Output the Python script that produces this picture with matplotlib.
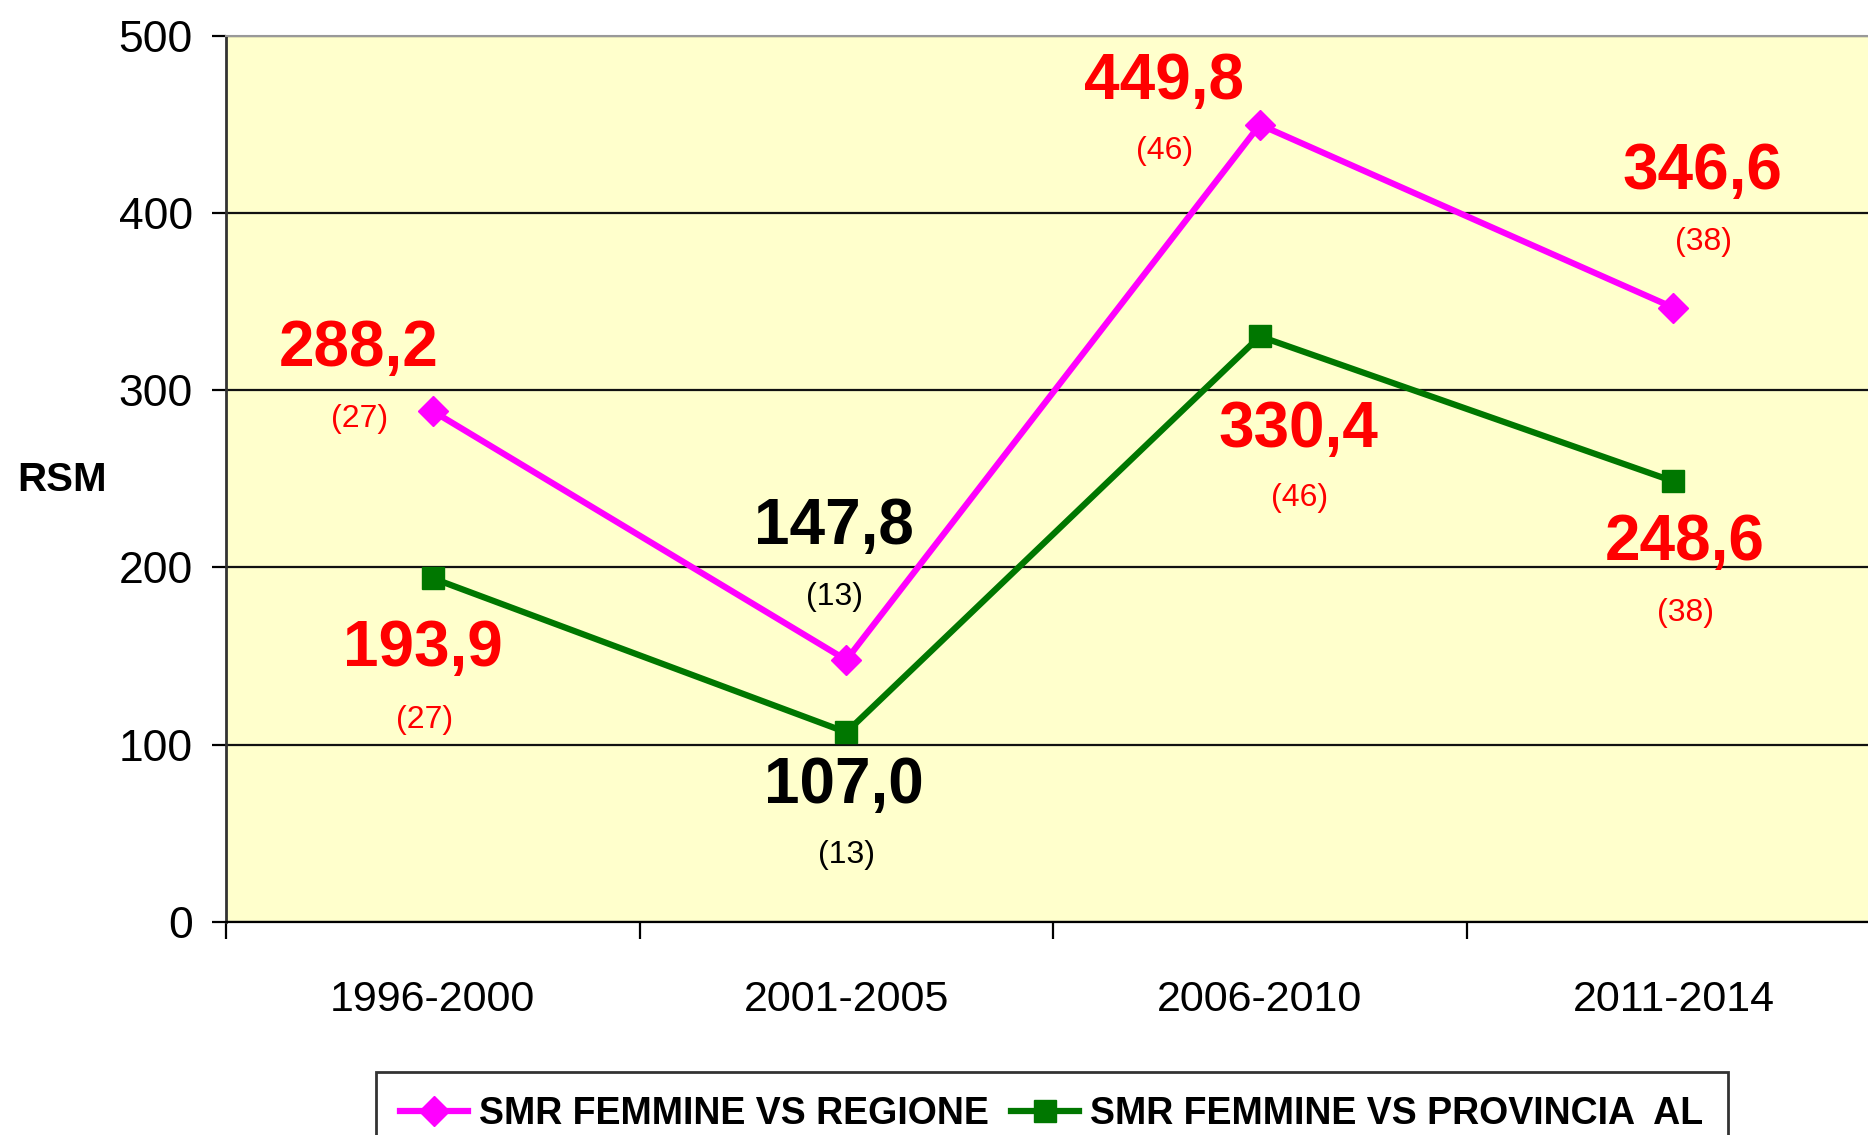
import numpy as np
import matplotlib
matplotlib.use("Agg")
import matplotlib.pyplot as plt
from matplotlib import font_manager

periods = ["1996-2000", "2001-2005", "2006-2010", "2011-2014"]
smr_regione = [288.2, 147.8, 449.8, 346.6]
smr_provincia = [193.9, 107.0, 330.4, 248.6]
casi = [27, 13, 46, 38]
label_regione = "SMR FEMMINE VS REGIONE"
label_provincia = "SMR FEMMINE VS PROVINCIA  AL"

installed = {f.name for f in font_manager.fontManager.ttflist}
if "Liberation Sans Narrow" in installed:
    narrow = "Liberation Sans Narrow"
    big, small, leg = 50, 28, 32
else:
    narrow = "Liberation Sans"
    big, small, leg = 46, 23, 27
plt.rcParams["font.family"] = ["Liberation Sans", "DejaVu Sans"]

fig = plt.figure(figsize=(18.68, 11.35), dpi=100)
ax = fig.add_axes([0.121, 0.1877, 0.8855, 0.7808])
ax.set_facecolor("#FFFFCC")

x = np.arange(len(periods)) + 0.5
ax.plot(x, smr_regione, color="#FF00FF", lw=4.5, marker="D", ms=15,
        label=label_regione, zorder=3)
ax.plot(x, smr_provincia, color="#007700", lw=4.5, marker="s", ms=16,
        label=label_provincia, zorder=3)

ax.set_xlim(0, 4)
ax.set_ylim(0, 500)
ax.set_yticks(range(0, 501, 100))
ax.yaxis.grid(True, color="#111111", lw=1.6)
ax.set_axisbelow(True)
ax.tick_params(axis="y", length=10, width=1.6, pad=14, labelsize=32, direction="out")
ax.set_xticks(x)
ax.set_xticklabels(periods, fontsize=31)
ax.set_xticks(range(0, 5), minor=True)
ax.tick_params(axis="x", which="major", length=0, pad=42)
ax.tick_params(axis="x", which="minor", length=12, width=1.6, direction="out")

ax.spines["top"].set_color("#999999")
ax.spines["top"].set_linewidth(1.5)
ax.spines["left"].set_color("#333333")
ax.spines["left"].set_linewidth(2)
ax.spines["bottom"].set_linewidth(1.6)
ax.spines["right"].set_visible(False)

# label offsets in pixels (value label, count label) for each point
off_reg = [((-74, 62), (-73, -8)), ((-12, 133), (-12, 63)),
           ((-96, 43), (-95, -26)), ((29, 136), (30, 66))]
off_prov = [((-10, -71), (-8, -142)), ((-2, -54), (0, -123)),
            ((39, -94), (40, -162)), ((11, -62), (12, -132))]
black_idx = [1]

for series, offs in ((smr_regione, off_reg), (smr_provincia, off_prov)):
    for i, v in enumerate(series):
        col = "black" if i in black_idx else "red"
        (vx, vy), (cx, cy) = offs[i]
        ax.annotate(f"{v:.1f}".replace(".", ","), (x[i], v), xytext=(vx, vy),
                    textcoords="offset pixels", ha="center", va="center",
                    fontsize=big, fontweight="bold", color=col, family=narrow)
        ax.annotate(f"({casi[i]})", (x[i], v), xytext=(cx, cy),
                    textcoords="offset pixels", ha="center", va="center",
                    fontsize=small, color=col, family=narrow)

fig.text(0.0332, 0.577, "RSM", ha="center", va="center", fontsize=29,
         fontweight="bold")

lg = fig.legend(loc="upper center", bbox_to_anchor=(0.563, 0.0555), ncol=2,
                frameon=True, fancybox=False, handlelength=1.8,
                handletextpad=0.3, columnspacing=0.6, borderpad=0.65,
                borderaxespad=0, prop={"family": narrow, "weight": "bold", "size": leg},
                markerscale=1.0)
lg.get_frame().set_edgecolor("black")
lg.get_frame().set_linewidth(2)

fig.savefig("out.png", dpi=100)
